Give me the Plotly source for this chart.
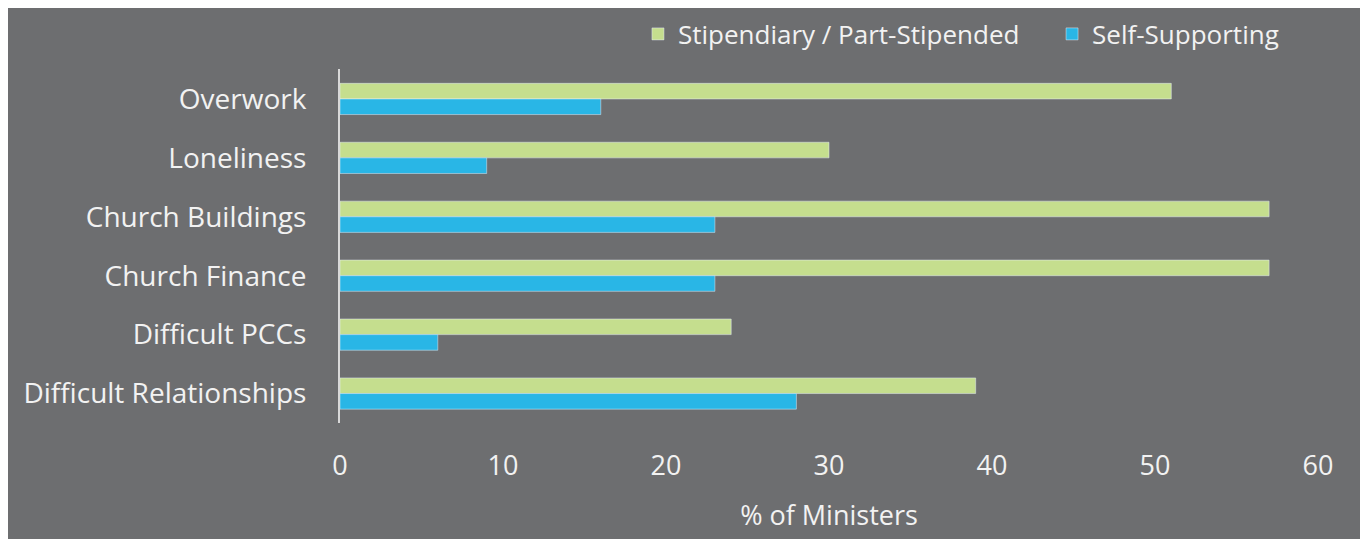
import plotly.graph_objects as go

# data
categories = ["Overwork", "Loneliness", "Church Buildings", "Church Finance",
              "Difficult PCCs", "Difficult Relationships"]
stipendiary = [51, 30, 57, 57, 24, 39]
self_supporting = [16, 9, 23, 23, 6, 28]

BG = "#6d6e70"
TXT = "#f2f2f2"
FONT = "Open Sans"

fig = go.Figure()
fig.add_bar(y=categories, x=stipendiary, orientation="h",
            name="Stipendiary / Part-Stipended", marker_color="#c5de8e",
            legend="legend", showlegend=True)
fig.add_bar(y=categories, x=self_supporting, orientation="h",
            name="Self-Supporting", marker_color="#29b6e6",
            legend="legend2", showlegend=True)

# one legend per series so each entry sits where the reference has it
leg = dict(orientation="h", xref="container", yref="container",
           xanchor="left", y=0.9518, yanchor="middle",
           font=dict(size=26, color=TXT), itemwidth=30,
           bgcolor="rgba(0,0,0,0)")

fig.update_layout(
    width=1368, height=539,
    barmode="group", bargap=0.47, bargroupgap=0,
    paper_bgcolor=BG, plot_bgcolor=BG,
    margin=dict(l=332, r=58, t=60, b=124),
    font=dict(family=FONT, size=28, color=TXT),
    showlegend=True,
    legend=dict(leg, x=0.4605),
    legend2=dict(leg, x=0.7632),
)
fig.update_xaxes(range=[0, 60], dtick=10, showgrid=False, zeroline=False,
                 showline=False, ticklabelstandoff=24,
                 tickfont=dict(size=27, color=TXT),
                 title=dict(text="% of Ministers", font=dict(size=27, color=TXT),
                            standoff=24))
fig.update_yaxes(autorange="reversed", showgrid=False, showline=True,
                 linecolor="#d9d9d9", linewidth=2, ticklabelstandoff=26,
                 tickfont=dict(size=28, color=TXT))

fig.write_html("out.html")
